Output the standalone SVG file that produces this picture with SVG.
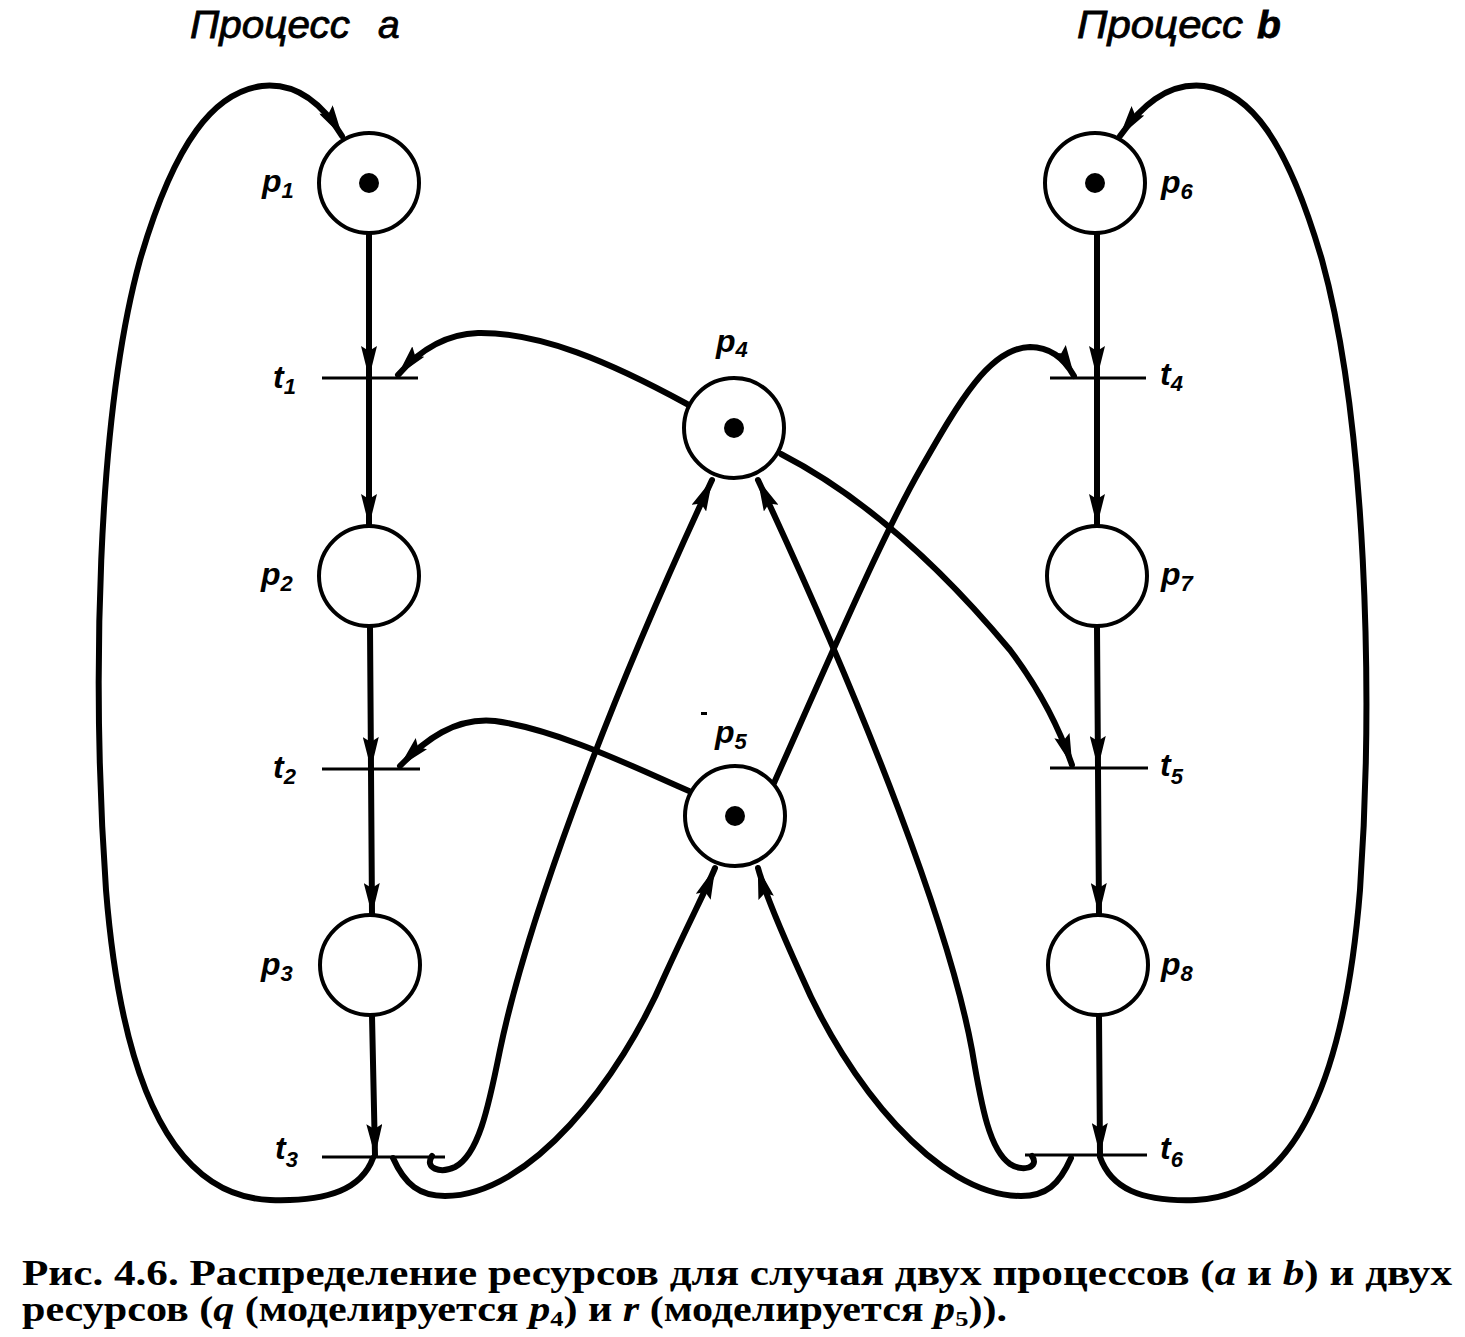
<svg xmlns="http://www.w3.org/2000/svg" width="1465" height="1337" viewBox="0 0 1465 1337">
<style>
.bg{fill:#fff}
.place{fill:#fff;stroke:#000;stroke-width:4}
.tok{fill:#000}
.bar{stroke:#000;stroke-width:3.2;fill:none}
.arc{fill:none;stroke:#000;stroke-width:6;stroke-linecap:round;marker-end:url(#ah)}
.lbl{font-family:"Liberation Sans",Arial,sans-serif;font-style:italic;font-weight:bold;font-size:32px;fill:#000}
.sub{font-size:22px}
.title{font-family:"Liberation Sans",Arial,sans-serif;font-style:italic;font-size:39px;fill:#000;stroke:#000;stroke-width:0.8}
.cap{font-family:"Liberation Serif","Times New Roman",serif;font-weight:bold;font-size:35px;fill:#000}
.it{font-style:italic}
</style>
<defs>
<marker id="ah" markerUnits="userSpaceOnUse" viewBox="0 0 32 16" refX="31" refY="8" markerWidth="32" markerHeight="16" orient="auto">
<path d="M0,0 L32,8 L0,16 L5,8 Z" fill="#000"/>
</marker>
</defs>
<rect class="bg" x="0" y="0" width="1465" height="1337"/>

<g id="titles">
<text class="title" x="190" y="38" textLength="160" lengthAdjust="spacingAndGlyphs">Процесс</text>
<text class="title" x="378" y="38">a</text>
<text class="title" x="1077" y="38" textLength="166" lengthAdjust="spacingAndGlyphs">Процесс</text>
<text class="title" x="1257" y="38" font-weight="bold">b</text>
</g>

<g id="connectors">
<path class="arc" d="M369,234 L369,377"/>
<path class="arc" d="M369,379 L369,525"/>
<path class="arc" d="M370,627 L371,768"/>
<path class="arc" d="M371,770 L372,914"/>
<path class="arc" d="M372,1016 L375,1155"/>
<path class="arc" d="M1097,234 L1097,377"/>
<path class="arc" d="M1097,379 L1097,525"/>
<path class="arc" d="M1097,627 L1098,767"/>
<path class="arc" d="M1098,769 L1099,914"/>
<path class="arc" d="M1099,1016 L1100,1154"/>
<path class="arc" d="M373,1158 C362,1188 330,1202 270,1200 C175,1196 122,1090 106,890 C92,690 96,420 140,260 C175,140 215,92 262,86 C300,82 325,108 342,136"/>
<path class="arc" d="M1100,1157 C1111,1188 1140,1202 1196,1200 C1291,1196 1344,1090 1360,890 C1374,690 1366,420 1322,260 C1287,140 1250,92 1204,86 C1166,82 1140,108 1120,136"/>
<path class="arc" d="M687,404 C610,362 540,332 478,333 C445,334 418,352 398,375"/>
<path class="arc" d="M689,791 C640,770 560,730 495,721 C455,717 425,740 400,766"/>
<path class="arc" d="M781,454 C880,505 960,590 1010,650 C1040,690 1060,730 1072,765"/>
<path class="arc" d="M774,783 C820,680 880,540 920,470 C960,400 990,348 1030,347 C1052,347 1065,360 1074,376"/>
<path class="arc" d="M432,1156 C424,1168 440,1174 455,1167 C478,1155 488,1110 500,1050 C525,930 600,720 712,480"/>
<path class="arc" d="M393,1158 C405,1185 420,1196 445,1196 C530,1196 620,1080 665,975 C690,920 706,890 715,868"/>
<path class="arc" d="M1032,1156 C1040,1168 1022,1172 1010,1164 C990,1150 982,1110 972,1050 C950,930 870,720 758,480"/>
<path class="arc" d="M1071,1158 C1059,1185 1046,1196 1021,1196 C936,1196 846,1080 801,975 C776,920 764,890 758,868"/>
</g>

<g id="p1"><circle class="place" cx="369" cy="183" r="50"/><circle class="tok" cx="369" cy="183" r="10"/>
<text class="lbl" x="262" y="192">p<tspan class="sub" dy="6">1</tspan></text></g>
<g id="p2"><circle class="place" cx="369" cy="576" r="50"/>
<text class="lbl" x="261" y="585">p<tspan class="sub" dy="6">2</tspan></text></g>
<g id="p3"><circle class="place" cx="370" cy="965" r="50"/>
<text class="lbl" x="261" y="975">p<tspan class="sub" dy="6">3</tspan></text></g>
<g id="p4"><circle class="place" cx="734" cy="428" r="50"/><circle class="tok" cx="734" cy="428" r="10"/>
<text class="lbl" x="716" y="352">p<tspan class="sub" dy="5">4</tspan></text></g>
<g id="p5"><circle class="place" cx="735" cy="816" r="50"/><circle class="tok" cx="735" cy="816" r="10"/>
<text class="lbl" x="715" y="743">p<tspan class="sub" dy="6">5</tspan></text>
<rect x="701" y="712" width="6" height="3" fill="#000"/></g>
<g id="p6"><circle class="place" cx="1095" cy="183" r="50"/><circle class="tok" cx="1095" cy="183" r="10"/>
<text class="lbl" x="1161" y="193">p<tspan class="sub" dy="6">6</tspan></text></g>
<g id="p7"><circle class="place" cx="1097" cy="576" r="50"/>
<text class="lbl" x="1161" y="585">p<tspan class="sub" dy="6">7</tspan></text></g>
<g id="p8"><circle class="place" cx="1098" cy="965" r="50"/>
<text class="lbl" x="1161" y="975">p<tspan class="sub" dy="6">8</tspan></text></g>

<g id="t1"><line class="bar" x1="322" y1="378" x2="418" y2="378"/>
<text class="lbl" x="273" y="388">t<tspan class="sub" dy="6">1</tspan></text></g>
<g id="t2"><line class="bar" x1="322" y1="769" x2="420" y2="769"/>
<text class="lbl" x="273" y="778">t<tspan class="sub" dy="6">2</tspan></text></g>
<g id="t3"><line class="bar" x1="322" y1="1157" x2="445" y2="1157"/>
<text class="lbl" x="275" y="1159">t<tspan class="sub" dy="8">3</tspan></text></g>
<g id="t4"><line class="bar" x1="1050" y1="378" x2="1146" y2="378"/>
<text class="lbl" x="1160" y="385">t<tspan class="sub" dy="6">4</tspan></text></g>
<g id="t5"><line class="bar" x1="1050" y1="768" x2="1148" y2="768"/>
<text class="lbl" x="1160" y="776">t<tspan class="sub" dy="8">5</tspan></text></g>
<g id="t6"><line class="bar" x1="1025" y1="1155" x2="1147" y2="1155"/>
<text class="lbl" x="1160" y="1159">t<tspan class="sub" dy="8">6</tspan></text></g>

<g id="caption">
<text class="cap" x="22" y="1285" textLength="1430" lengthAdjust="spacingAndGlyphs">Рис. 4.6. Распределение ресурсов для случая двух процессов (<tspan class="it">a</tspan> и <tspan class="it">b</tspan>) и двух</text>
<text class="cap" x="22" y="1321" textLength="985" lengthAdjust="spacingAndGlyphs">ресурсов (<tspan class="it">q</tspan> (моделируется <tspan class="it">p</tspan><tspan font-size="22" dy="5">4</tspan><tspan dy="-5">) и </tspan><tspan class="it">r</tspan> (моделируется <tspan class="it">p</tspan><tspan font-size="22" dy="5">5</tspan><tspan dy="-5">)).</tspan></text>
</g>
</svg>
